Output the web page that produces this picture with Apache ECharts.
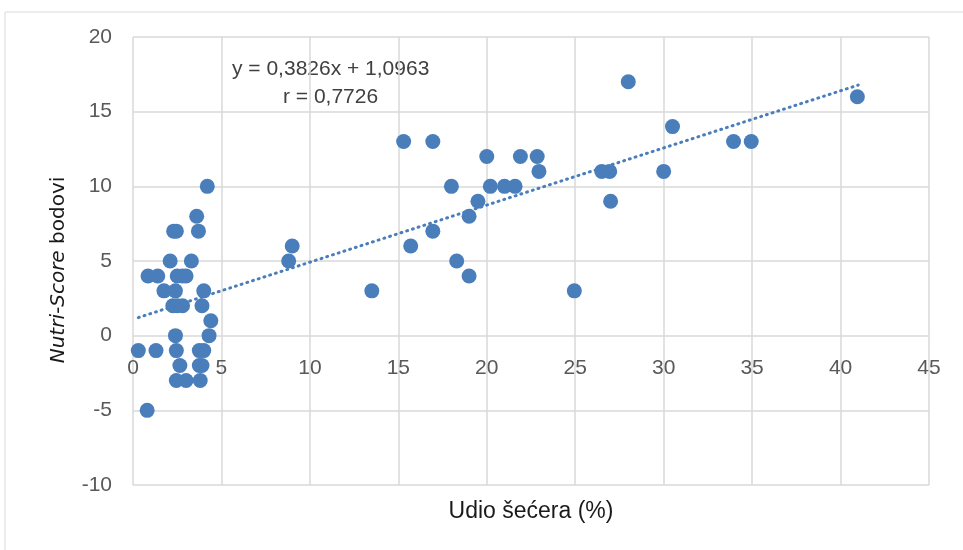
<!DOCTYPE html>
<html><head><meta charset="utf-8">
<script src="https://cdn.jsdelivr.net/npm/echarts@6/dist/echarts.min.js"></script>
<style>html,body{margin:0;padding:0;background:#fff}#c{width:963px;height:550px}</style>
</head><body><div id="c"></div>
<script>
const sugar = [4.2,3.6,2.3,2.45,3.7,2.1,3.3,0.85,1.4,2.5,2.8,3.0,1.75,2.4,4.0,2.25,2.5,2.8,3.9,4.4,2.4,4.3,0.3,1.3,2.45,3.75,4.0,2.65,3.75,3.9,2.45,3.0,3.8,0.8,
  8.8,9.0,13.5,15.3,16.95,15.7,16.95,18.0,18.3,19.0,19.0,19.5,20.0,20.2,21.0,21.6,21.9,22.85,22.95,24.95,26.5,26.95,27.0,28.0,30.0,30.5,33.95,34.95,40.95];
const score = [10,8,7,7,7,5,5,4,4,4,4,4,3,3,3,2,2,2,2,1,0,0,-1,-1,-1,-1,-1,-2,-2,-2,-3,-3,-3,-5,
  5,6,3,13,13,6,7,10,5,4,8,9,12,10,10,10,12,12,11,3,11,11,9,17,11,14,13,13,16];
const trendX = [0.3, 41];
const trendY = [1.21, 16.78];
const xTicks = {min:0, max:45, interval:5};
const yTicks = {min:-10, max:20, interval:5};
const eqText = 'y = 0,3826x + 1,0963';
const rText = 'r = 0,7726';

const pts = sugar.map((v,i)=>[v, score[i]]);
const trend = trendX.map((v,i)=>[v, trendY[i]]);
const font = 'Liberation Sans, Arial, sans-serif';
const chart = echarts.init(document.getElementById('c'));
chart.setOption({
  animation:false,
  grid:{left:133, right:34, top:37, bottom:65, containLabel:false, outerBoundsMode:'none'},
  xAxis:{type:'value', min:xTicks.min, max:xTicks.max, interval:xTicks.interval,
    offset:-150,
    name:'Udio šećera (%)', nameLocation:'middle', nameGap:165,
    nameTextStyle:{fontSize:23, color:'#1a1a1a', fontFamily:font},
    axisLine:{show:false, onZero:false},
    axisTick:{show:false},
    axisLabel:{fontSize:21, color:'#595959', fontFamily:font, margin:23},
    splitLine:{show:true, lineStyle:{color:'#d9d9d9', width:1.5}}},
  yAxis:{type:'value', min:yTicks.min, max:yTicks.max, interval:yTicks.interval,
    name:'{i|Nutri-Score}{n| bodovi}', nameLocation:'middle', nameGap:64, nameRotate:90,
    nameTextStyle:{padding:[0,18,0,0],
      rich:{i:{fontStyle:'italic', fontSize:20, color:'#1a1a1a', fontFamily:'DejaVu Sans, sans-serif'},
            n:{fontSize:20, color:'#1a1a1a', fontFamily:'DejaVu Sans, sans-serif'}}},
    axisLine:{show:false}, axisTick:{show:false},
    axisLabel:{fontSize:21, color:'#595959', fontFamily:font, margin:21},
    splitLine:{show:true, lineStyle:{color:'#d9d9d9', width:1.5}}},
  graphic:[
    {type:'rect', shape:{x:5, y:12, width:1000, height:600}, style:{fill:'none', stroke:'#d9d9d9', lineWidth:1}, silent:true, z:-10},
    {type:'text', left:232, top:59, style:{text:eqText, fontSize:21, fill:'#404040', fontFamily:font}},
    {type:'text', left:283, top:87, style:{text:rText, fontSize:21, fill:'#404040', fontFamily:font}}
  ],
  series:[
    {type:'line', data:trend, symbol:'none', z:3,
      lineStyle:{color:'#4a7ebb', width:3, type:[1,5], cap:'round'}},
    {type:'scatter', data:pts, symbolSize:15, z:4,
      itemStyle:{color:'#4a7ebb', opacity:1}}
  ]
});
</script></body></html>
